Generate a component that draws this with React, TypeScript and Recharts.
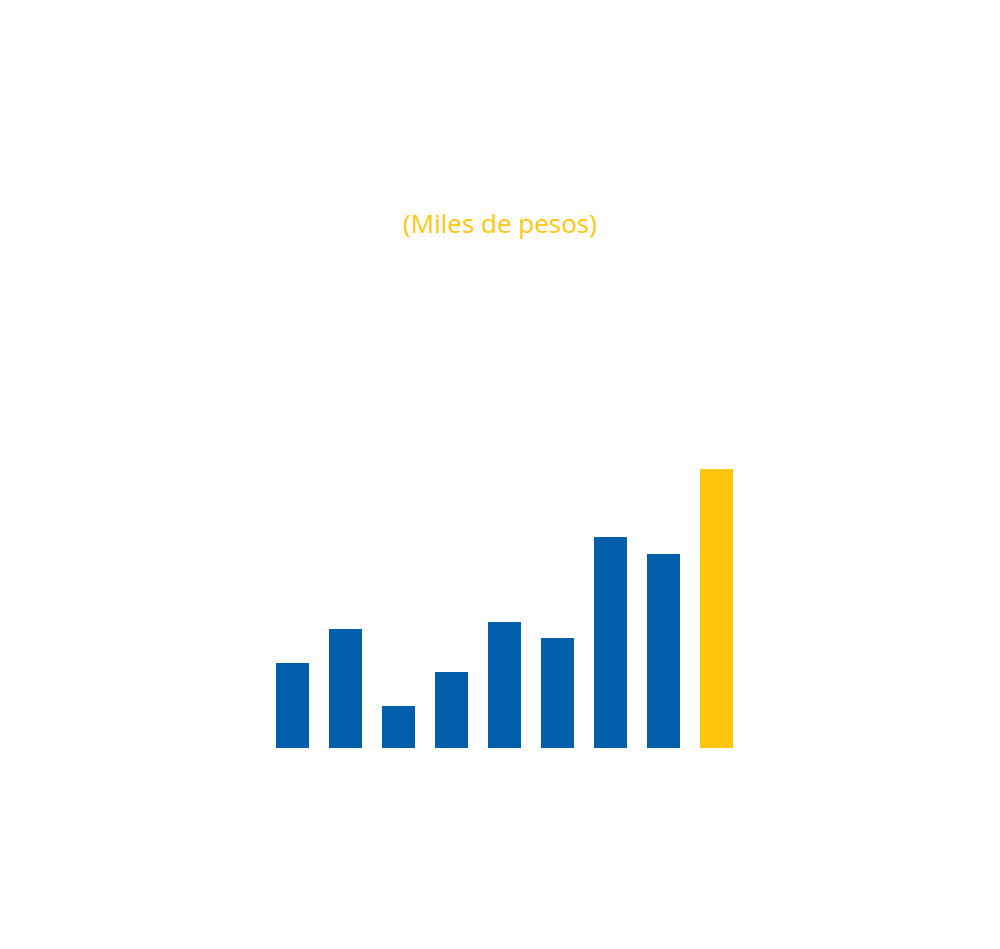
import React from "react";
import { BarChart, Bar, XAxis, YAxis, Cell } from "recharts";

const categories = ["1", "2", "3", "4", "5", "6", "7", "8", "9"];
const values = [85, 119, 42, 76, 126, 110, 211, 194, 279];
const barColors = ["#005EAB", "#005EAB", "#005EAB", "#005EAB", "#005EAB", "#005EAB", "#005EAB", "#005EAB", "#FFC60B"];
const subtitle = "(Miles de pesos)";

const data = categories.map((c, i) => ({ name: c, value: values[i] }));

export default function App() {
  return (
    <div style={{ position: "relative", width: 992, height: 941, background: "#fff" }}>
      <div
        style={{
          position: "absolute",
          top: 200,
          left: -4,
          width: 992,
          textAlign: "center",
          fontFamily: "'Open Sans', sans-serif",
          fontSize: 26,
          lineHeight: "30px",
          color: "#FFC60B",
        }}
      >
        {subtitle}
      </div>
      <BarChart
        width={992}
        height={941}
        data={data}
        margin={{ top: 461, right: 257, bottom: 201, left: 258 }}
        barCategoryGap={0}
      >
        <XAxis dataKey="name" hide />
        <YAxis hide domain={[0, 279]} />
        <Bar dataKey="value" barSize={33} isAnimationActive={false}>
          {data.map((d, i) => (
            <Cell key={d.name} fill={barColors[i]} />
          ))}
        </Bar>
      </BarChart>
    </div>
  );
}
